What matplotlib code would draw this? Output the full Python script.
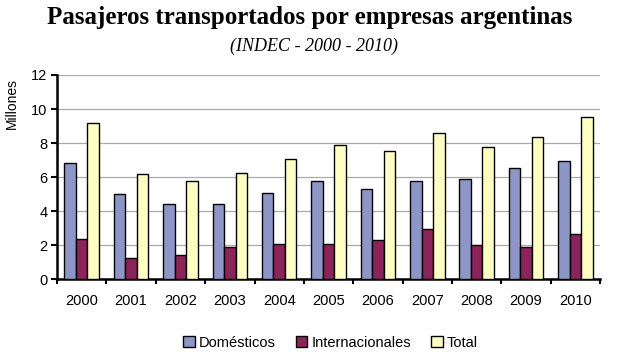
import numpy as np
import matplotlib; matplotlib.use("Agg")
import matplotlib.pyplot as plt
from matplotlib.patches import Patch

years = ["2000", "2001", "2002", "2003", "2004", "2005", "2006", "2007", "2008", "2009", "2010"]
domesticos = [6.83, 4.99, 4.44, 4.44, 5.09, 5.79, 5.32, 5.79, 5.87, 6.52, 6.93]
internacionales = [2.35, 1.25, 1.41, 1.88, 2.06, 2.06, 2.29, 2.92, 1.98, 1.88, 2.68]
total = [9.16, 6.19, 5.79, 6.26, 7.07, 7.87, 7.56, 8.59, 7.79, 8.34, 9.53]
series = [("Domésticos", domesticos, "#8e96c8"),
          ("Internacionales", internacionales, "#8b2458"),
          ("Total", total, "#ffffc4")]

plt.rcParams["font.family"] = ["Liberation Sans", "DejaVu Sans"]
fig = plt.figure(figsize=(6.2, 3.57), dpi=100)
ax = fig.add_axes([0.092, 0.218, 0.876, 0.572])

x = np.arange(len(years)); w = 0.233
for k, (name, vals, col) in enumerate(series):
    ax.bar(x + (k - 1) * w, vals, w, color=col, edgecolor="black", linewidth=1.0, zorder=3, label=name)

ax.set_xlim(-0.5, len(years) - 0.5); ax.set_ylim(0, 12)
ax.set_yticks(range(0, 13, 2))
ax.yaxis.grid(True, color="#aaaaaa", linewidth=0.9, zorder=0)
ax.set_xticks(x); ax.set_xticklabels(years)
ax.set_xticks(np.arange(-0.5, len(years), 1.0), minor=True)
ax.tick_params(axis="x", which="major", length=0, pad=11, labelsize=10.5)
ax.tick_params(axis="x", which="minor", length=3.5, width=1.5, direction="out")
ax.tick_params(axis="y", length=4, width=1.5, direction="out", labelsize=10.5, pad=3)
for s in ("top", "right"):
    ax.spines[s].set_visible(False)
ax.spines["left"].set_linewidth(1.8); ax.spines["bottom"].set_linewidth(1.8)
ax.set_ylabel("Millones", fontsize=10)
ax.yaxis.set_label_coords(-0.071, 0.86)

fig.text(0.5, 0.95, "Pasajeros transportados por empresas argentinas", ha="center", va="center",
         family="Liberation Serif", fontweight="bold", fontsize=18)
fig.text(0.506, 0.87, "(INDEC - 2000 - 2010)", ha="center", va="center",
         family="Liberation Serif", style="italic", fontsize=13)

handles = [Patch(facecolor=c, edgecolor="black", label=n) for n, _, c in series]
fig.legend(handles=handles, loc="center", bbox_to_anchor=(0.533, 0.04), ncol=3, frameon=False,
           fontsize=10.5, handlelength=0.8, handleheight=0.8, handletextpad=0.3, columnspacing=1.35)

fig.savefig("out.png", dpi=100)
